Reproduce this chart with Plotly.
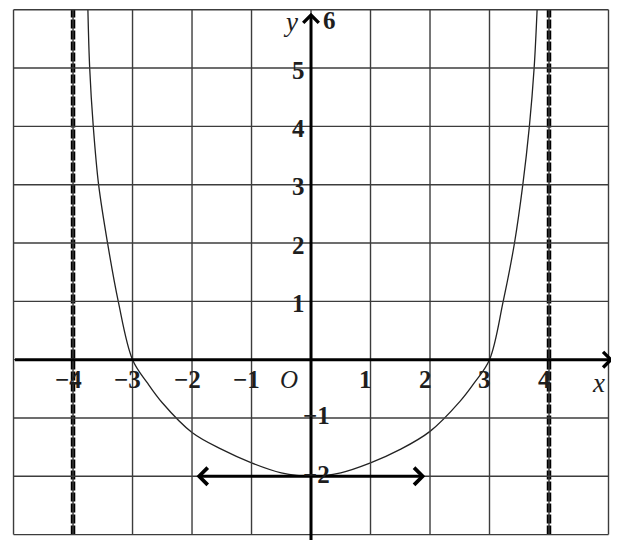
import plotly.graph_objects as go

# grid extents (units)
grid_x = [-5, -4, -3, -2, -1, 0, 1, 2, 3, 4, 5]
grid_y = [-3, -2, -1, 0, 1, 2, 3, 4, 5, 6]

# curve points
curve_x = [-3.75, -3.72, -3.66, -3.57, -3.42, -3.24, -3.0, -2.75, -2.5, -2.0, -1.5, -1.0, -0.5, 0.0,
           0.5, 1.0, 1.5, 2.0, 2.5, 2.75, 3.0, 3.23, 3.42, 3.56, 3.67, 3.75, 3.8]
curve_y = [6.0, 5.0, 4.0, 3.0, 2.0, 1.0, 0.0, -0.4, -0.74, -1.25, -1.54, -1.77, -1.94, -2.0,
           -1.94, -1.77, -1.54, -1.23, -0.72, -0.39, 0.0, 1.0, 2.0, 3.0, 4.0, 5.0, 6.0]

# vertical asymptotes
asymptotes = [-4, 4]

# double arrow segment
seg_x = [-1.95, 1.92]
seg_y = -2

x_ticks = [-4, -3, -2, -1, 1, 2, 3, 4]
x_tick_text = ["−4", "−3", "−2", "−1", "1", "2", "3", "4"]
y_ticks = [1, 2, 3, 4, 5]
y_ticks_neg = [-1, -2]

font = dict(family="Liberation Serif", size=25, color="#1e1e1e")

fig = go.Figure()

# grid lines
for gx in grid_x:
    fig.add_shape(type="line", x0=gx, x1=gx, y0=grid_y[0], y1=grid_y[-1],
                  line=dict(color="#3c3c3c", width=1.4))
for gy in grid_y:
    fig.add_shape(type="line", x0=grid_x[0], x1=grid_x[-1], y0=gy, y1=gy,
                  line=dict(color="#3c3c3c", width=1.4))

# asymptotes
for a in asymptotes:
    fig.add_trace(go.Scatter(x=[a, a], y=[grid_y[0], grid_y[-1]], mode="lines",
                             line=dict(color="black", width=4.5, dash="9px,2px"),
                             hoverinfo="skip"))

# curve
fig.add_trace(go.Scatter(x=curve_x, y=curve_y, mode="lines", line_shape="spline",
                         line=dict(color="#222", width=1.3), hoverinfo="skip"))

# axes with arrows
fig.add_annotation(x=5.08, y=0, ax=grid_x[0], ay=0, xref="x", yref="y", axref="x", ayref="y",
                   text="", showarrow=True, arrowhead=4, arrowsize=1, arrowwidth=3, arrowcolor="black")
fig.add_annotation(x=0, y=5.95, ax=0, ay=-3.3, xref="x", yref="y", axref="x", ayref="y",
                   text="", showarrow=True, arrowhead=4, arrowsize=1, arrowwidth=3, arrowcolor="black")

# double arrow at y=-2
fig.add_annotation(x=seg_x[1], y=seg_y, ax=seg_x[0], ay=seg_y, xref="x", yref="y", axref="x", ayref="y",
                   text="", showarrow=True, arrowhead=4, startarrowhead=4, arrowside="end+start",
                   arrowsize=1.1, startarrowsize=1.1, arrowwidth=3, arrowcolor="black")

# tick labels
for v, t in zip(x_ticks, x_tick_text):
    fig.add_annotation(x=v, y=0, text="<b>" + t + "</b>", showarrow=False, font=font,
                       xshift=-5, yshift=-20)
for v in y_ticks:
    fig.add_annotation(x=0, y=v, text="<b>" + str(v) + "</b>", showarrow=False, font=font,
                       xshift=-13, yshift=-2)
for v in y_ticks_neg:
    fig.add_annotation(x=0, y=v, text="<b>−" + str(-v) + "</b>", showarrow=False, font=font,
                       xshift=5, yshift=2)
fig.add_annotation(x=0, y=6, text="<b>6</b>", showarrow=False, font=font, xshift=18, yshift=-11)
fig.add_annotation(x=0, y=6, text="<i>y</i>", showarrow=False, font=dict(font, size=27),
                   xshift=-21, yshift=-12)
fig.add_annotation(x=0, y=0, text="<i>O</i>", showarrow=False, font=font, xshift=-22, yshift=-20)
fig.add_annotation(x=5, y=0, text="<i>x</i>", showarrow=False, font=dict(font, size=27),
                   xshift=-10, yshift=-23)

# page has an 8px body margin, ranges account for it
fig.update_layout(
    width=619, height=540,
    margin=dict(l=0, r=0, t=0, b=0),
    paper_bgcolor="white", plot_bgcolor="white",
    showlegend=False,
    xaxis=dict(range=[-5.093, 5.311], visible=False, fixedrange=True),
    yaxis=dict(range=[-3.23, 6.03], visible=False, fixedrange=True),
)

fig.write_html("out.html")
